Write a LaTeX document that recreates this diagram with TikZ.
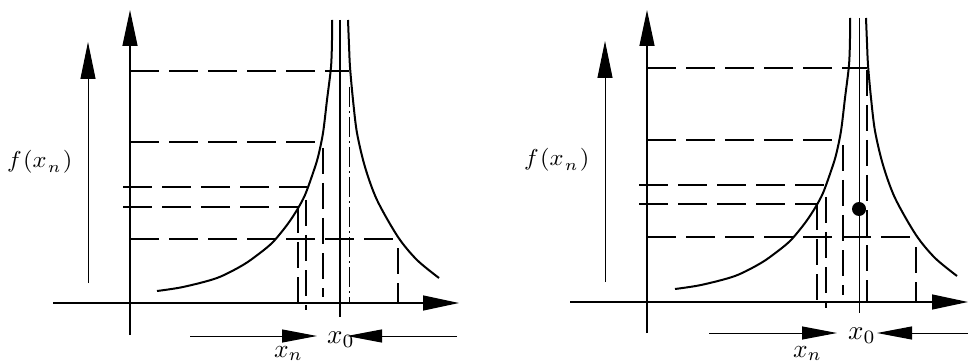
\documentclass[tikz,border=0pt]{standalone}
\usepackage{graphicx}
\usetikzlibrary{arrows.meta}
\tikzset{
  axisline/.style={line width=1.3pt, -{Triangle[length=36pt,width=15pt]}},
  farrow/.style={line width=1pt, -{Triangle[length=37pt,width=15pt]}},
  botarrow/.style={line width=1pt, -{Triangle[length=35pt,width=13pt]}},
  curveline/.style={line width=2pt},
  hdash/.style={line width=1.4pt, dash pattern=on 29pt off 10pt},
  vdash/.style={line width=1.4pt, dash pattern=on 26pt off 9pt},
  thindash/.style={line width=1pt, dash pattern=on 20pt off 4pt on 2pt off 4pt},
  lbl/.style={inner sep=0pt, anchor=base west},
}
\newcommand{\flab}{\scalebox{2.45}[2.3]{$f\mkern1mu(x\mkern1mu\lower2pt\hbox{$\scriptstyle n$}\mkern2mu)$}}
\newcommand{\xlab}[1]{\scalebox{2.7}{$x\lower1.6pt\hbox{$\scriptstyle #1$}$}}
\newcommand{\xnlab}{\scalebox{2.55}{$x\lower1.2pt\hbox{$\scriptstyle n$}$}}
\begin{document}
\begin{tikzpicture}[x=1pt, y=-1pt]
\useasboundingbox (0,0) rectangle (968,363);
% ---------------- left panel ----------------
\coordinate (Lyb) at (130,335); \coordinate (Lyt) at (130,10);
\coordinate (Lxl) at (53,303);  \coordinate (Lxr) at (459,303);
\coordinate (Lfb) at (88,283);  \coordinate (Lft) at (88,42);
\draw[axisline] (Lyb) -- (Lyt);
\draw[axisline] (Lxl) -- (Lxr);
\draw[farrow] (Lfb) -- (Lft);
\node[lbl] (Lflab) at (7,168) {\flab};
\draw[curveline] plot[smooth, tension=0.5] coordinates {(157,291) (183,287) (217,278) (243,265) (260,253) (273,242) (287,225) (297,210) (305,195) (313,173) (318,157) (323,133) (327,100) (331,67) (332,40) (332,20)};
\draw[curveline] plot[smooth, tension=0.5] coordinates {(348,20) (349,45) (350,67) (353,100) (357,133) (365,167) (377,200) (398,237) (417,260) (439,278)};
\draw[line width=1.3pt] (340,20) -- (340,317);
\draw[hdash] (130,71) -- (349,71);
\draw[hdash] (130,142) -- (322,142);
\draw[hdash] (123,187) -- (307,187);
\draw[hdash] (123,207) -- (298,207);
\draw[hdash] (130,239) -- (398,239);
\draw[vdash] (298,207) -- (298,310);
\draw[vdash] (306,200) -- (306,310);
\draw[vdash] (323,148) -- (323,297);
\draw[thindash] (349,87) -- (349,303);
\draw[vdash] (398,248) -- (398,303);
\node[lbl] (Lx0) at (327,343) {\xlab{0}};
\node[lbl] (Lxn) at (274,357) {\xnlab};
\coordinate (La1) at (190,336); \coordinate (La2) at (317,336);
\coordinate (La3) at (457,336); \coordinate (La4) at (347,336);
\draw[botarrow] (La1) -- (La2);
\draw[botarrow] (La3) -- (La4);
% ---------------- right panel ----------------
\coordinate (Ryb) at (647,333); \coordinate (Ryt) at (647,10);
\coordinate (Rxl) at (570,302); \coordinate (Rxr) at (968,302);
\coordinate (Rfb) at (605,282); \coordinate (Rft) at (605,41);
\draw[axisline] (Ryb) -- (Ryt);
\draw[axisline] (Rxl) -- (Rxr);
\draw[farrow] (Rfb) -- (Rft);
\node[lbl] (Rflab) at (524,166) {\flab};
\begin{scope}[shift={(518,-2)}]
\draw[curveline] plot[smooth, tension=0.5] coordinates {(157,291) (183,287) (217,278) (243,265) (260,253) (273,242) (287,225) (297,210) (305,195) (313,173) (318,157) (323,133) (327,100) (331,67) (332,40) (332,20)};
\draw[curveline] plot[smooth, tension=0.5] coordinates {(348,20) (349,45) (350,67) (353,100) (357,133) (365,167) (377,200) (398,237) (417,260) (439,278)};
\end{scope}
\draw[line width=0.7pt] (859,18) -- (859,313);
\draw[hdash] (647,68) -- (867,68);
\draw[hdash] (647,140) -- (837,140);
\draw[hdash] (639,185) -- (827,185);
\draw[hdash] (639,204) -- (817,204);
\draw[hdash] (647,237) -- (916,237);
\draw[vdash] (817,204) -- (817,308);
\draw[vdash] (826,197) -- (826,308);
\draw[vdash] (843,145) -- (843,295);
\draw[vdash] (867,70) -- (867,302);
\draw[vdash] (916,247) -- (916,302);
\node[circle, fill=black, inner sep=0pt, minimum size=14pt] (Rdot) at (859,209) {};
\node[lbl] (Rx0) at (848,339) {\xlab{0}};
\node[lbl] (Rxn) at (793,357) {\xnlab};
\coordinate (Ra1) at (709,333); \coordinate (Ra2) at (837,333);
\coordinate (Ra3) at (968,333); \coordinate (Ra4) at (877,333);
\draw[botarrow] (Ra1) -- (Ra2);
\draw[botarrow] (Ra3) -- (Ra4);
\end{tikzpicture}
\end{document}
